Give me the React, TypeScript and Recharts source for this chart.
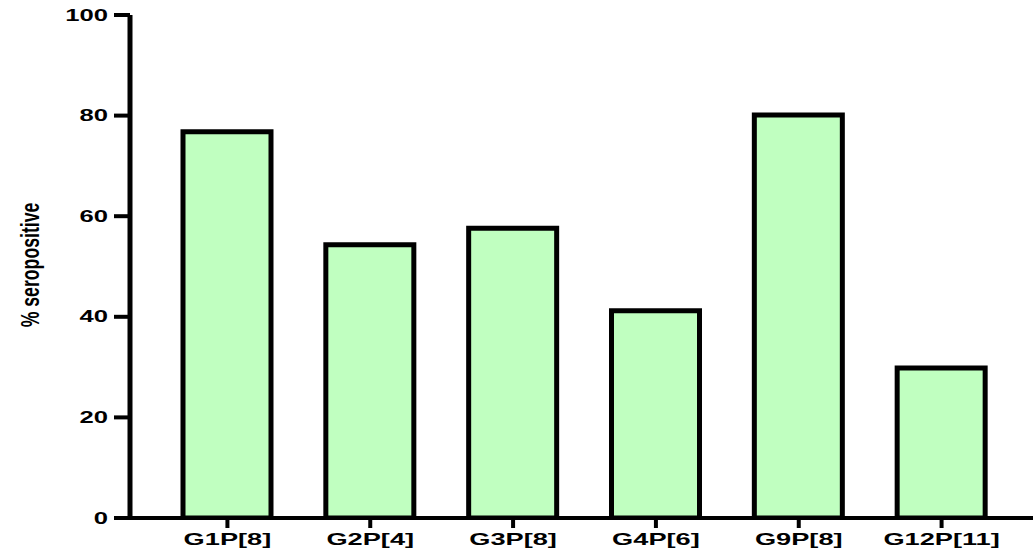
import React from 'react';
import { BarChart, Bar, XAxis, YAxis } from 'recharts';

const genotypes = ['G1P[8]', 'G2P[4]', 'G3P[8]', 'G4P[6]', 'G9P[8]', 'G12P[11]'];
const seropositive = [76.8, 54.3, 57.6, 41.2, 80.1, 29.8];
const yTicks = [0, 20, 40, 60, 80, 100];

const data = genotypes.map((g, i) => ({ genotype: g, value: seropositive[i] }));

const FONT = '"Liberation Sans", Arial, sans-serif';

const XTick = ({ x, y, payload }: any) => (
  <g transform={`translate(${x},${y}) scale(1.6,1)`}>
    <text x={0} y={0} dy={15} textAnchor="middle" fontFamily={FONT} fontWeight="bold" fontSize={17} fill="#000">
      {payload.value}
    </text>
  </g>
);

const YTick = ({ x, y, payload }: any) => (
  <g transform={`translate(${x},${y}) scale(1.6,1)`}>
    <text x={0} y={0} dy={5.5} textAnchor="end" fontFamily={FONT} fontWeight="bold" fontSize={16} fill="#000">
      {payload.value}
    </text>
  </g>
);

const YLabel = () => (
  <text
    transform="translate(39,265) rotate(-90) scale(0.68,1)"
    textAnchor="middle"
    fontFamily={FONT}
    fontWeight="bold"
    fontSize={26}
    fill="#000"
  >
    % seropositive
  </text>
);

export default function App() {
  return (
    <div style={{ position: 'absolute', left: 0, top: 0, background: '#fff' }}>
      <BarChart width={1033} height={553} data={data} margin={{ top: 15, right: 0, bottom: 0, left: 0 }}>
        <XAxis
          dataKey="genotype"
          height={35}
          padding={{ left: 26, right: 20 }}
          axisLine={{ stroke: '#000', strokeWidth: 4 }}
          tickLine={{ stroke: '#000', strokeWidth: 4 }}
          tickSize={10}
          tick={<XTick />}
          interval={0}
        />
        <YAxis
          width={130}
          domain={[0, 100]}
          ticks={yTicks}
          allowDataOverflow
          axisLine={{ stroke: '#000', strokeWidth: 5 }}
          tickLine={{ stroke: '#000', strokeWidth: 4 }}
          tickSize={16}
          tickMargin={6}
          tick={<YTick />}
          label={{ content: () => <YLabel /> }}
        />
        <Bar dataKey="value" fill="#C0FFC0" stroke="#000" strokeWidth={5} barSize={88} isAnimationActive={false} />
      </BarChart>
    </div>
  );
}
